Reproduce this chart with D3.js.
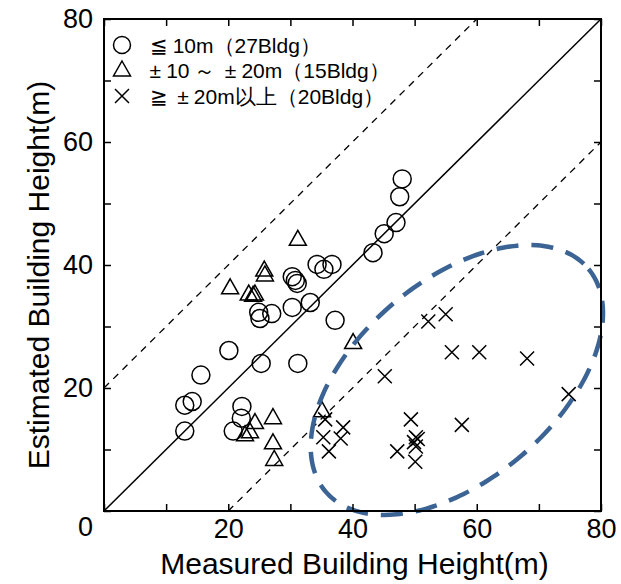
<!DOCTYPE html>
<html>
<head>
<meta charset="utf-8">
<script src="https://cdn.jsdelivr.net/npm/d3@7"></script>
<style>
  body { margin: 0; background: #fff; }
  text { font-family: "Liberation Sans", Arial, sans-serif; }
</style>
</head>
<body>
<div id="chart"></div>
<script>
// Measured vs estimated building height, three error classes

// error <= 10m (circles)
const withinTen = [
  [48.0, 54.0], [47.6, 51.1], [47.0, 46.9], [45.1, 45.1], [43.3, 42.0],
  [34.3, 40.1], [36.7, 40.1], [35.4, 39.3], [30.3, 38.1], [31.1, 37.0],
  [30.3, 33.1], [33.2, 33.9], [37.2, 31.0], [24.9, 32.3], [25.1, 31.3],
  [27.0, 32.1], [20.1, 26.1], [25.3, 24.0], [31.2, 24.0], [15.6, 22.1],
  [13.0, 17.2], [14.2, 17.8], [13.0, 13.0], [22.2, 17.0], [22.1, 15.1],
  [20.8, 13.0], [30.8, 37.5]
];

// error 10..20m (triangles)
const tenToTwenty = [
  [31.2, 44.1], [25.8, 39.1], [25.9, 38.3], [20.3, 36.2], [23.3, 35.2],
  [24.3, 35.2], [40.1, 27.3], [35.1, 16.2], [27.2, 15.1], [24.3, 14.3],
  [23.5, 12.8], [22.7, 12.3], [27.2, 11.0], [27.4, 8.3], [24.0, 35.0]
];

// error >= 20m (crosses)
const overTwenty = [
  [55.0, 32.0], [52.2, 30.8], [56.0, 25.8], [60.4, 25.8], [68.1, 24.8],
  [45.2, 21.9], [74.8, 19.0], [35.6, 14.9], [38.5, 13.6], [35.3, 12.0],
  [38.1, 11.8], [36.2, 9.7], [49.4, 14.9], [57.6, 14.0], [47.2, 9.7],
  [50.1, 8.0], [50.2, 12.0], [50.5, 11.7], [49.9, 11.2], [50.2, 10.5]
];

const legendLabels = ["≦10m（27Bldg）", "±10～±20m（15Bldg）", "≧±20m以上（20Bldg）"];
const axisTicks = [0, 10, 20, 30, 40, 50, 60, 70, 80];
const refOffsets = [0, 20, -20];   // y = x + offset

// highlighted group ellipse (data units): center, semi axes, angle in degrees
const ellipseCenter = [56.8, 21.3];
const ellipseAxes = [27.85, 16.1];
const ellipseAngle = 41;

const margin = {top: 19, right: 20, bottom: 73, left: 104};
const width = 621 - margin.left - margin.right,
      height = 584 - margin.top - margin.bottom;

const svg = d3.select("#chart").append("svg")
  .attr("width", 621)
  .attr("height", 584);

const g = svg.append("g")
  .attr("transform", `translate(${margin.left},${margin.top})`);

const x = d3.scaleLinear().domain([0, 80]).range([0, width]);
const y = d3.scaleLinear().domain([0, 80]).range([height, 0]);

// reference lines y = x, y = x +/- 20
refOffsets.forEach(off => {
  const x0 = Math.max(0, -off), x1 = Math.min(80, 80 - off);
  g.append("line")
    .attr("x1", x(x0)).attr("y1", y(x0 + off))
    .attr("x2", x(x1)).attr("y2", y(x1 + off))
    .attr("stroke", "#000")
    .attr("stroke-width", off === 0 ? 1.5 : 1.3)
    .attr("stroke-dasharray", off === 0 ? null : "7,6");
});

// markers
const mk = {stroke: "#000", width: 1.5};

g.selectAll("circle.pt").data(withinTen).join("circle")
  .attr("class", "pt")
  .attr("cx", d => x(d[0])).attr("cy", d => y(d[1]))
  .attr("r", 9)
  .attr("fill", "none").attr("stroke", mk.stroke).attr("stroke-width", mk.width);

const triPath = "M0,-9.5L8.5,5.5L-8.5,5.5Z";
g.selectAll("path.tri").data(tenToTwenty).join("path")
  .attr("class", "tri")
  .attr("d", triPath)
  .attr("transform", d => `translate(${x(d[0])},${y(d[1])})`)
  .attr("fill", "none").attr("stroke", mk.stroke).attr("stroke-width", mk.width);

const crossPath = "M-7,-7L7,7M-7,7L7,-7";
g.selectAll("path.cross").data(overTwenty).join("path")
  .attr("class", "cross")
  .attr("d", crossPath)
  .attr("transform", d => `translate(${x(d[0])},${y(d[1])})`)
  .attr("fill", "none").attr("stroke", mk.stroke).attr("stroke-width", mk.width);

// dashed ellipse around the big-error group
const rad = ellipseAngle * Math.PI / 180;
const ellipsePts = d3.range(0, 360, 3).map(t => {
  const a = t * Math.PI / 180;
  const u = ellipseAxes[0] * Math.cos(a), v = ellipseAxes[1] * Math.sin(a);
  return [ellipseCenter[0] + u * Math.cos(rad) - v * Math.sin(rad),
          ellipseCenter[1] + u * Math.sin(rad) + v * Math.cos(rad)];
});
g.append("path")
  .attr("d", d3.line().x(d => x(d[0])).y(d => y(d[1])).curve(d3.curveCardinalClosed)(ellipsePts))
  .attr("fill", "none")
  .attr("stroke", "#3b6394")
  .attr("stroke-width", 4.5)
  .attr("stroke-dasharray", "22,13");

// axes, ticks pointing inward on all four sides
const fmt = d => (d % 20 === 0 ? d : "");

const xAxis = g.append("g")
  .attr("transform", `translate(0,${height})`)
  .call(d3.axisBottom(x).tickValues(axisTicks).tickFormat(d => (d === 0 ? "" : fmt(d)))
    .tickSizeInner(-7).tickSizeOuter(0));
xAxis.selectAll("text").attr("y", 27).attr("dy", 0);

const yAxis = g.append("g")
  .call(d3.axisLeft(y).tickValues(axisTicks).tickFormat(fmt)
    .tickSizeInner(-7).tickSizeOuter(0).tickPadding(11));
yAxis.selectAll(".tick").filter(d => d === 0).select("text").attr("dy", "0.9em");

g.append("g")
  .call(d3.axisTop(x).tickValues(axisTicks).tickFormat("").tickSizeInner(-7).tickSizeOuter(0));
g.append("g")
  .attr("transform", `translate(${width},0)`)
  .call(d3.axisRight(y).tickValues(axisTicks).tickFormat("").tickSizeInner(-7).tickSizeOuter(0));

g.selectAll(".tick text")
  .attr("font-family", "'Liberation Sans', Arial, sans-serif")
  .attr("font-size", 27)
  .attr("fill", "#000");
g.selectAll(".tick line").attr("stroke", "#000").attr("stroke-width", 1.5);
g.selectAll(".domain").remove();

g.append("rect")
  .attr("width", width).attr("height", height)
  .attr("fill", "none").attr("stroke", "#000").attr("stroke-width", 2);

// axis titles
svg.append("text")
  .attr("x", margin.left + width / 2 + 2).attr("y", 574)
  .attr("text-anchor", "middle")
  .attr("font-size", 30)
  .text("Measured Building Height(m)");

svg.append("text")
  .attr("transform", `translate(49,${margin.top + height / 2 + 10}) rotate(-90)`)
  .attr("text-anchor", "middle")
  .attr("font-size", 30)
  .text("Estimated Building Height(m)");

// legend
const legend = g.append("g").attr("transform", "translate(18,26)");
const shapes = ["circle", triPath, crossPath];
const wideSym = /^[≦≧±～]$/;
legendLabels.forEach((lab, i) => {
  const row = legend.append("g").attr("transform", `translate(0,${i * 25.5})`);
  if (i === 0) {
    row.append("circle").attr("r", 8.5);
  } else {
    row.append("path").attr("d", shapes[i]);
  }
  row.selectAll("circle,path")
    .attr("fill", "none").attr("stroke", "#000").attr("stroke-width", 1.5);
  const t = row.append("text")
    .attr("x", 23).attr("y", 7.5)
    .attr("font-family", "'Noto Sans CJK JP', sans-serif")
    .attr("font-size", 21);
  // pad the symbols out to full width like the original Japanese font
  lab.split(/([≦≧±～])/).filter(s => s.length).forEach(s => {
    const sp = t.append("tspan").text(s);
    if (wideSym.test(s)) sp.attr("dx", "0.22em").attr("letter-spacing", "0.24em");
  });
});
</script>
</body>
</html>
